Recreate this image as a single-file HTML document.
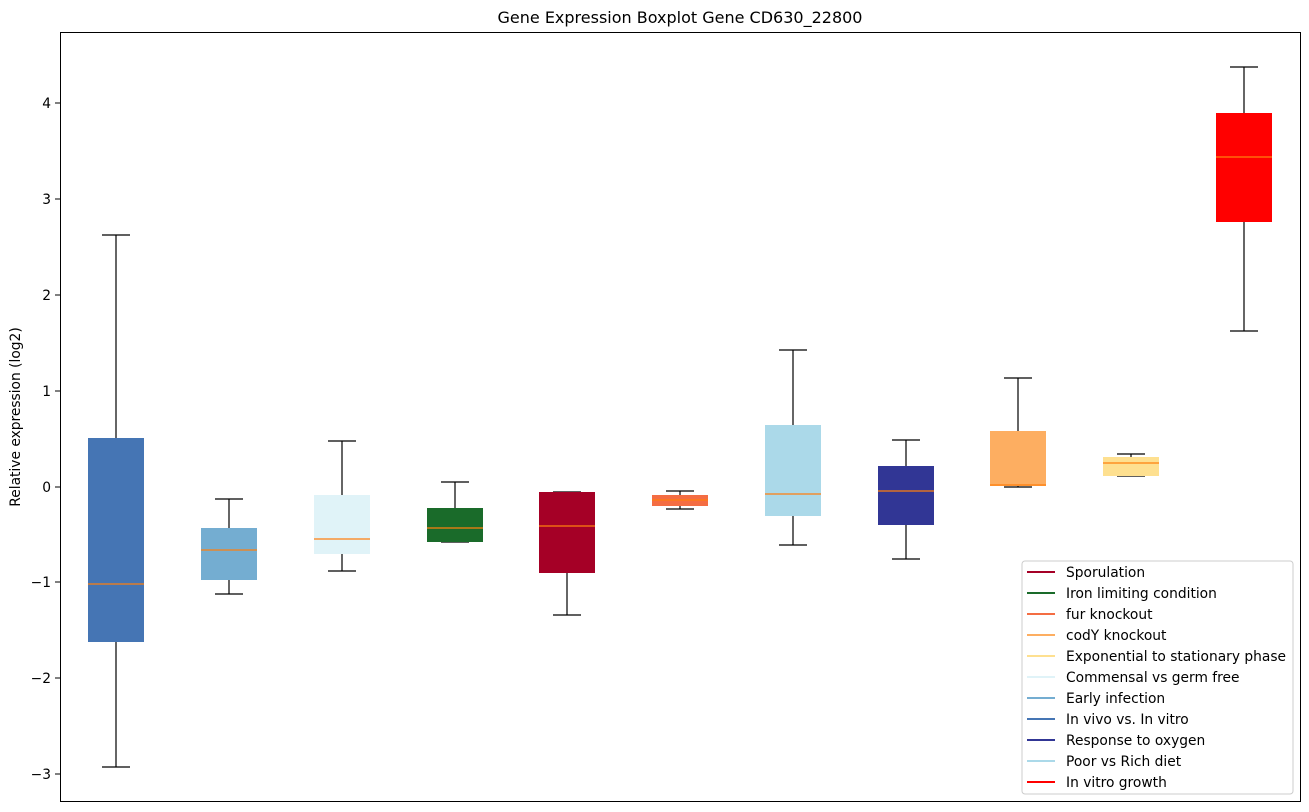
<!DOCTYPE html>
<html><head><style>body{margin:0;background:#fff;}svg{display:block;font-family:"DejaVu Sans",sans-serif;}</style></head><body>
<svg width="1309" height="812" xmlns="http://www.w3.org/2000/svg">
<rect width="1309" height="812" fill="#fff"/>
<text x="680" y="23" font-size="16" text-anchor="middle">Gene Expression Boxplot Gene CD630_22800</text>
<text transform="translate(20,417) rotate(-90)" font-size="13.8" text-anchor="middle">Relative expression (log2)</text>
<g font-size="13.8" text-anchor="end">
<line x1="55" x2="60" y1="103" y2="103" stroke="#000"/><text x="51" y="108">4</text>
<line x1="55" x2="60" y1="199" y2="199" stroke="#000"/><text x="51" y="204">3</text>
<line x1="55" x2="60" y1="295" y2="295" stroke="#000"/><text x="51" y="300">2</text>
<line x1="55" x2="60" y1="391" y2="391" stroke="#000"/><text x="51" y="396">1</text>
<line x1="55" x2="60" y1="487" y2="487" stroke="#000"/><text x="51" y="492">0</text>
<line x1="55" x2="60" y1="582" y2="582" stroke="#000"/><text x="51" y="587">−1</text>
<line x1="55" x2="60" y1="678" y2="678" stroke="#000"/><text x="51" y="683">−2</text>
<line x1="55" x2="60" y1="774" y2="774" stroke="#000"/><text x="51" y="779">−3</text>
</g>
<g stroke="#000" stroke-width="1.2">
<line x1="116" x2="116" y1="235" y2="767"/><line x1="102" x2="130" y1="235" y2="235"/><line x1="102" x2="130" y1="767" y2="767"/>
<line x1="229" x2="229" y1="499" y2="594"/><line x1="215" x2="243" y1="499" y2="499"/><line x1="215" x2="243" y1="594" y2="594"/>
<line x1="342" x2="342" y1="441" y2="571"/><line x1="328" x2="356" y1="441" y2="441"/><line x1="328" x2="356" y1="571" y2="571"/>
<line x1="455" x2="455" y1="482" y2="542"/><line x1="441" x2="469" y1="482" y2="482"/><line x1="441" x2="469" y1="542" y2="542"/>
<line x1="567" x2="567" y1="492" y2="615"/><line x1="553" x2="581" y1="492" y2="492"/><line x1="553" x2="581" y1="615" y2="615"/>
<line x1="680" x2="680" y1="491" y2="509"/><line x1="666" x2="694" y1="491" y2="491"/><line x1="666" x2="694" y1="509" y2="509"/>
<line x1="793" x2="793" y1="350" y2="545"/><line x1="779" x2="807" y1="350" y2="350"/><line x1="779" x2="807" y1="545" y2="545"/>
<line x1="906" x2="906" y1="440" y2="559"/><line x1="892" x2="920" y1="440" y2="440"/><line x1="892" x2="920" y1="559" y2="559"/>
<line x1="1018" x2="1018" y1="378" y2="487"/><line x1="1004" x2="1032" y1="378" y2="378"/><line x1="1004" x2="1032" y1="487" y2="487"/>
<line x1="1131" x2="1131" y1="454" y2="476"/><line x1="1117" x2="1145" y1="454" y2="454"/><line x1="1117" x2="1145" y1="476" y2="476"/>
<line x1="1244" x2="1244" y1="67" y2="331"/><line x1="1230" x2="1258" y1="67" y2="67"/><line x1="1230" x2="1258" y1="331" y2="331"/>
</g>
<g>
<rect x="88" y="438" width="56" height="204" fill="#4575b4"/>
<rect x="201" y="528" width="56" height="52" fill="#74add1"/>
<rect x="314" y="495" width="56" height="59" fill="#e0f3f8"/>
<rect x="427" y="508" width="56" height="34" fill="#1a6b2a"/>
<rect x="539" y="492" width="56" height="81" fill="#a50026"/>
<rect x="652" y="495" width="56" height="11" fill="#f46d43"/>
<rect x="765" y="425" width="56" height="91" fill="#abd9e9"/>
<rect x="878" y="466" width="56" height="59" fill="#313695"/>
<rect x="990" y="431" width="56" height="55" fill="#fdae61"/>
<rect x="1103" y="457" width="56" height="19" fill="#fee090"/>
<rect x="1216" y="113" width="56" height="109" fill="#ff0000"/>
</g>
<g stroke="#ff7f0e" stroke-width="1.2">
<line x1="88" x2="144" y1="584" y2="584"/><line x1="201" x2="257" y1="550" y2="550"/><line x1="314" x2="370" y1="539" y2="539"/>
<line x1="427" x2="483" y1="528" y2="528"/><line x1="539" x2="595" y1="526" y2="526"/><line x1="652" x2="708" y1="500" y2="500"/>
<line x1="765" x2="821" y1="494" y2="494"/><line x1="878" x2="934" y1="491" y2="491"/><line x1="990" x2="1046" y1="485" y2="485"/>
<line x1="1103" x2="1159" y1="463" y2="463"/><line x1="1216" x2="1272" y1="157" y2="157"/>
</g>
<rect x="60.5" y="32.5" width="1240" height="769" fill="none" stroke="#000"/>
<rect x="1022" y="561" width="271" height="233" rx="3" fill="#fff" fill-opacity="0.8" stroke="#ccc"/>
<g font-size="13.8" stroke-width="2">
<line x1="1027" x2="1055" y1="572" y2="572" stroke="#a50026"/><text x="1066" y="577">Sporulation</text>
<line x1="1027" x2="1055" y1="593" y2="593" stroke="#1a6b2a"/><text x="1066" y="598">Iron limiting condition</text>
<line x1="1027" x2="1055" y1="614" y2="614" stroke="#f46d43"/><text x="1066" y="619">fur knockout</text>
<line x1="1027" x2="1055" y1="635" y2="635" stroke="#fdae61"/><text x="1066" y="640">codY knockout</text>
<line x1="1027" x2="1055" y1="656" y2="656" stroke="#fee090"/><text x="1066" y="661">Exponential to stationary phase</text>
<line x1="1027" x2="1055" y1="677" y2="677" stroke="#e0f3f8"/><text x="1066" y="682">Commensal vs germ free</text>
<line x1="1027" x2="1055" y1="698" y2="698" stroke="#74add1"/><text x="1066" y="703">Early infection</text>
<line x1="1027" x2="1055" y1="719" y2="719" stroke="#4575b4"/><text x="1066" y="724">In vivo vs. In vitro</text>
<line x1="1027" x2="1055" y1="740" y2="740" stroke="#313695"/><text x="1066" y="745">Response to oxygen</text>
<line x1="1027" x2="1055" y1="761" y2="761" stroke="#abd9e9"/><text x="1066" y="766">Poor vs Rich diet</text>
<line x1="1027" x2="1055" y1="782" y2="782" stroke="#ff0000"/><text x="1066" y="787">In vitro growth</text>
</g>
</svg>
</body></html>
